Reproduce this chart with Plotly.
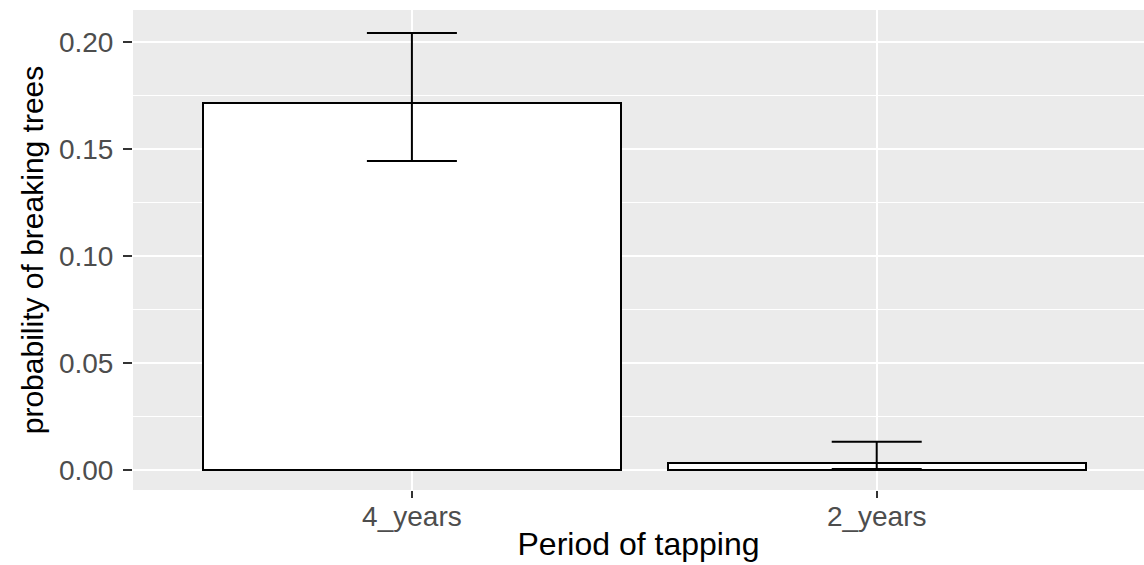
import plotly.graph_objects as go

categories = ["4_years", "2_years"]
probability = [0.1717, 0.0031]
ci_lower = [0.1444, 0.0005]
ci_upper = [0.2042, 0.0132]

err_plus = [u - m for u, m in zip(ci_upper, probability)]
err_minus = [m - l for m, l in zip(probability, ci_lower)]

fig = go.Figure()
fig.add_trace(go.Bar(
    x=categories,
    y=probability,
    width=0.9,
    marker=dict(color="white", line=dict(color="black", width=2)),
    error_y=dict(type="data", symmetric=False, array=err_plus, arrayminus=err_minus,
                 color="black", thickness=2, width=45),
    showlegend=False,
))

font_family = "Liberation Sans, Arial, sans-serif"

fig.update_layout(
    width=1144, height=565,
    margin=dict(l=133, r=0, t=10, b=75),
    paper_bgcolor="white",
    plot_bgcolor="#EBEBEB",
    font=dict(family=font_family),
    bargap=0,
)

fig.update_xaxes(
    type="category",
    range=[-0.6, 1.575],
    showgrid=True, gridcolor="white", gridwidth=2,
    ticks="outside", ticklen=7, tickwidth=1.5, tickcolor="#333333",
    tickfont=dict(size=28, color="#4D4D4D", family=font_family),
    ticklabelstandoff=-6,
    title=dict(text="Period of tapping", font=dict(size=32, color="black", family=font_family), standoff=2),
    zeroline=False, showline=False,
)

fig.update_yaxes(
    range=[-0.00935, 0.2150],
    tickmode="array",
    tickvals=[0.0, 0.05, 0.10, 0.15, 0.20],
    ticktext=["0.00", "0.05", "0.10", "0.15", "0.20"],
    showgrid=True, gridcolor="white", gridwidth=2,
    minor=dict(tickmode="array", tickvals=[0.025, 0.075, 0.125, 0.175], showgrid=True,
               gridcolor="white", gridwidth=1),
    ticks="outside", ticklen=9, tickwidth=1.5, tickcolor="#333333",
    tickfont=dict(size=28, color="#4D4D4D", family=font_family),
    ticklabelstandoff=4,
    title=dict(text="probability of breaking trees", font=dict(size=30, color="black", family=font_family), standoff=6),
    zeroline=False, showline=False,
)

fig.write_html("out.html")
